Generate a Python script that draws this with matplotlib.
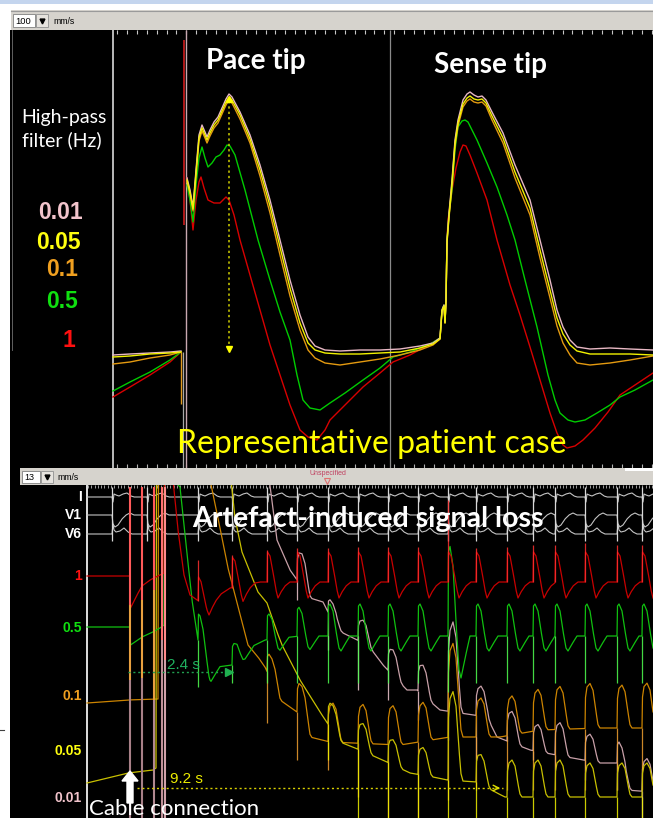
import numpy as np
import matplotlib
matplotlib.use("Agg")
import matplotlib.pyplot as plt
from matplotlib.patches import Rectangle, FancyArrow

# ============================ DATA ============================
# Upper panel (100 mm/s): monophasic action potentials, screen units
hp_settings = ['0.01', '0.05', '0.1', '0.5', '1']   # high-pass filter (Hz)

pre_t    = [113, 130, 150, 170, 181]
pre_0_01 = [355, 354, 353, 352, 351]
pre_0_05 = [357, 356, 354, 353, 352]
pre_0_1  = [364, 362, 358, 355, 352]
pre_0_5  = [391, 382, 372, 360, 352]
pre_1    = [397, 387, 375, 362, 352]

map_t = [187, 190, 193, 196, 199, 202, 205, 207, 210, 214,
         218, 222, 226, 229, 232, 240, 250, 260, 270, 280,
         290, 300, 308, 315, 325, 340, 360, 380, 400, 420,
         433, 440, 442, 444, 445, 446, 447, 449, 452, 455,
         458, 463, 467, 470, 474, 478, 482, 486, 492, 503,
         515, 530, 540, 550, 557, 563, 570, 577, 590, 610,
         630, 653]
map_0_01 = [178, 190, 207, 170, 135, 125, 132, 137, 130, 122,
            117, 108, 99, 94, 97, 112, 135, 165, 200, 240,
            280, 315, 337, 346, 350, 351, 350, 350, 349, 346,
            343, 338, 310, 305, 322, 300, 240, 213, 180, 140,
            120, 100, 94, 92, 95, 97, 96, 100, 112, 133,
            165, 200, 240, 280, 310, 327, 340, 347, 349, 348,
            349, 350]
map_0_05 = [180, 192, 209, 173, 138, 128, 135, 140, 133, 125,
            120, 111, 102, 97, 100, 115, 139, 170, 206, 247,
            288, 323, 343, 350, 353, 354, 354, 353, 352, 348,
            344, 339, 311, 306, 323, 301, 242, 216, 183, 143,
            123, 104, 98, 96, 99, 100, 99, 103, 116, 138,
            172, 208, 250, 290, 318, 334, 345, 351, 354, 354,
            354, 355]
map_0_1 = [182, 194, 211, 176, 141, 131, 138, 143, 136, 128,
           123, 114, 105, 100, 103, 119, 143, 176, 213, 255,
           296, 330, 350, 358, 363, 365, 362, 359, 355, 350,
           345, 339, 311, 306, 323, 301, 243, 218, 186, 146,
           126, 107, 101, 99, 102, 103, 102, 106, 120, 143,
           178, 215, 258, 298, 326, 343, 355, 363, 365, 363,
           360, 356]
map_0_5_t = [187, 190, 193, 196, 199, 202, 205, 208, 212, 216,
             220, 224, 227, 230, 235, 245, 258, 270, 280, 290,
             297, 303, 310, 320, 330, 345, 363, 380, 393, 410,
             432, 440, 442, 444, 445, 446, 447, 449, 452, 455,
             458, 462, 465, 468, 472, 477, 487, 497, 507, 515,
             525, 537, 548, 555, 560, 568, 575, 585, 597, 610,
             620, 635, 653]
map_0_5 = [185, 200, 222, 185, 158, 147, 158, 167, 163, 157,
           155, 150, 145, 146, 155, 190, 240, 280, 312, 340,
           375, 400, 408, 410, 403, 393, 380, 368, 357, 352,
           343, 338, 310, 305, 322, 300, 240, 215, 190, 150,
           127, 121, 120, 122, 130, 140, 163, 187, 215, 240,
           280, 327, 375, 400, 413, 420, 422, 420, 413, 405,
           397, 390, 380]
map_1_t = [187, 190, 193, 196, 199, 201, 204, 208, 214, 220,
           224, 226, 229, 234, 240, 250, 260, 270, 280, 290,
           300, 308, 317, 325, 330, 345, 363, 380, 393, 410,
           432, 440, 442, 444, 445, 446, 447, 448, 452, 456,
           460, 463, 466, 470, 477, 487, 497, 510, 520, 530,
           540, 550, 557, 563, 567, 575, 583, 595, 608, 620,
           635, 653]
map_1 = [178, 200, 230, 200, 182, 177, 188, 200, 203, 203,
         199, 197, 200, 215, 240, 275, 310, 345, 375, 405,
         430, 437, 440, 430, 420, 405, 387, 373, 362, 355,
         343, 338, 310, 305, 322, 300, 240, 220, 190, 168,
         152, 145, 146, 155, 173, 200, 240, 285, 315, 347,
         380, 413, 433, 445, 448, 446, 440, 428, 412, 395,
         385, 373]

caliper_t, caliper_top, caliper_bottom = 229, 97, 349

# Lower panel (13 mm/s): surface ECG + MAP channels, screen units
beat_t = [112, 147, 198, 232, 267, 297, 328, 358, 388, 418,
          448, 476, 507, 533, 555, 585, 617, 642]
cable_t = [130, 142, 154, 162, 165]
lead_names = ['I', 'V1', 'V6']
lead_base = [497, 515, 534]
ecg_I_dx = [0, 1, 2, 4, 7, 11, 15, 19, 22]
ecg_I_dy = [0, 5, -3, -2, -1, -3, -4, -1, 0]
ecg_V1_dx = [0, 1, 3, 6, 10, 14, 18, 22]
ecg_V1_dy = [0, 9, 12, 10, 4, 0, -2, 0]
ecg_V6_dx = [0, 1, 2, 4, 8, 12, 16, 20]
ecg_V6_dy = [0, -10, -4, -2, -3, -6, -2, 0]

red_drift_t = [87, 130, 130.5, 137, 142, 150, 158, 164, 164.5, 172, 178,
               184, 190, 197, 205, 215, 230, 260, 300, 653]
red_drift = [576, 576, 608, 595, 586, 580, 576, 573, 470, 470, 530,
             575, 595, 600, 605, 598, 588, 582, 582, 582]
red_tpl_dx = [0, 0.5, 3, 6, 9, 11, 14, 18, 23]
red_tpl_dy = [0, -30, -26, -10, 8, 16, 10, 4, 0]
red_amp = [0.8, 1, 1, 1, 1, 1, 1, 1, 1, 1, 1, 1, 1, 1, 1, 1]
red_spike = [560, 555, 550, 548, 548, 547, 547, 547, 500, 548, 547, 545,
             545, 543, 545, 545]

green_drift_t = [87, 130, 130.5, 142, 153, 160, 164, 164.5, 180, 185, 192,
                 198, 210, 232, 245, 265, 300, 653]
green_drift = [627, 627, 645, 637, 632, 628, 625, 470, 487, 535, 600,
               640, 668, 665, 650, 640, 636, 636]
green_tpl_dx = [0, 0.5, 2, 5, 8, 11, 13, 17, 22]
green_tpl_dy = [0, -30, -32, -25, -5, 12, 15, 8, 0]
green_amp = [0.9, 0.6, 0.8, 0.9, 1, 1, 1, 1, 2.8, 1, 1, 1, 1, 1, 1, 1]
green_spike = [687, 683, 683, 683, 683, 683, 683, 683, 692, 683, 683, 683,
               683, 683, 683, 683]

orange_drift_t = [87, 128, 155, 158, 158.5, 208, 218, 228, 235, 248, 258,
                  265, 280, 297, 310, 330, 400, 450, 500, 540, 600, 653]
orange_drift = [703, 700, 699, 699, 470, 470, 518, 568, 595, 645, 657,
                667, 700, 712, 737, 742, 745, 737, 737, 730, 728, 728]
map_tpl_dx = [0, 0.5, 2, 5, 8, 11, 13, 15]
orange_tpl_dy = [0, -27, -36, -39, -33, -14, -3, 0]
orange_amp = [0.6, 0.9, 1.0, 1.0, 1.0, 1.0, 2.4, 1.0, 1.0, 1.05, 1.1, 1.15,
              1.1, 1.15]
orange_spike = [723, 760, 770, 797, 818, 818, 800, 790, 790, 790, 790, 790,
                790, 790]

yellow_drift_t = [87, 128, 153, 156, 156.5, 230, 235, 242, 258, 267, 277,
                  282, 300, 320, 340, 360, 387, 410, 433, 447, 477, 497,
                  505, 570, 653]
yellow_drift = [783, 773, 770, 768, 470, 470, 518, 552, 592, 603, 632,
                645, 680, 712, 742, 750, 762, 773, 777, 780, 782, 793,
                797, 797, 797]
yellow_tpl_dy = [0, -26, -34, -37, -31, -13, -3, 0]
yellow_amp = [0.7, 0.75, 0.68, 0.75, 2.4, 0.8, 1, 1, 1, 0.92, 0.92, 0.92]
yellow_spike = [760, 818, 818, 818, 818, 818, 818, 818, 818, 818, 818, 818]

pink_drift_t = [87, 164.5, 165, 268, 277, 290, 310, 323, 337, 353, 368,
                383, 407, 417, 440, 487, 497, 530, 567, 600, 617, 626, 653]
pink_drift = [830, 830, 470, 470, 540, 570, 598, 602, 630, 638, 645,
              665, 690, 690, 710, 717, 737, 750, 757, 763, 763, 790, 792]
pink_tpl_dy = [0, -20, -27, -30, -25, -10, -2, 0]
pink_amp = [1.1, 0.6, 0.75, 0.85, 1.0, 3.0, 1.0, 1.05, 0.9, 1.1, 0.9, 1.0, 1.1]
pink_spike = [600, 650, 690, 700, 720, 740, 760, 740, 760, 770, 780, 790, 818]

arrow_24 = (128, 232, 672)    # 2.4 s recovery, 0.5 Hz
arrow_92 = (137, 503, 788)    # 9.2 s recovery, 0.05 Hz

# ============================ STYLE ============================
C = {'0.01': '#e8b8c4', '0.05': '#f2f200', '0.1': '#e49a10',
     '0.5': '#00cc00', '1': '#d80000'}
LBL = {'0.01': '#f2c4cc', '0.05': '#ffff10', '0.1': '#f0a020',
       '0.5': '#10e010', '1': '#ff1010'}
LOW = {'0.01': '#c8a0a8', '0.05': '#c8c000', '0.1': '#cc8400',
       '0.5': '#10c010', '1': '#c80000'}
SPK = {'0.01': '#f0c8d0', '0.05': '#f0f000', '0.1': '#f0a030',
       '0.5': '#50ff50', '1': '#ff3030'}
CAL = 'Lato'
ARIAL = 'Liberation Sans'

W, H = 653, 818
fig = plt.figure(figsize=(W / 100, H / 100), dpi=100)
fig.patch.set_facecolor('white')


def make_ax(x0, y0, x1, y1, z=1):
    ax = fig.add_axes([x0 / W, 1 - y1 / H, (x1 - x0) / W, (y1 - y0) / H], zorder=z)
    ax.set_xlim(x0, x1)
    ax.set_ylim(y1, y0)
    ax.axis('off')
    return ax


bg = make_ax(0, 0, W, H, z=0)
bg.add_patch(Rectangle((0, 0), W, 3.5, color='#c4d5ee', lw=0))
bg.add_patch(Rectangle((10, 30), W - 10, H - 30, color='black', lw=0))
# toolbars
bg.add_patch(Rectangle((11, 10), W - 11, 20, color='#d6d3cd', lw=0))
bg.plot([11, W], [10.5, 10.5], color='#9a9a9a', lw=0.8)
bg.add_patch(Rectangle((13, 14), 22, 13, fc='white', ec='#808080', lw=0.6))
bg.add_patch(Rectangle((36, 14), 12, 13, fc='#e6e3de', ec='#909090', lw=0.6))
bg.text(15, 21, '100', fontsize=6.8, family=ARIAL, va='center', ha='left', color='black')
bg.plot([42], [21], marker='v', ms=3.5, color='black')
bg.text(53, 21.5, 'mm/s', fontsize=6.3, family=ARIAL, va='center', ha='left', color='black')

bg.add_patch(Rectangle((20, 468), W - 20, 17, color='#d6d3cd', lw=0))
bg.add_patch(Rectangle((625, 468), 28, 3, color='white', lw=0))
bg.add_patch(Rectangle((22, 471), 18, 12, fc='white', ec='#808080', lw=0.6))
bg.add_patch(Rectangle((41, 471), 12, 12, fc='#e6e3de', ec='#909090', lw=0.6))
bg.text(24, 477, '13', fontsize=6.5, family=ARIAL, va='center', ha='left', color='black')
bg.plot([47], [477], marker='v', ms=3.5, color='black')
bg.text(57, 477.5, 'mm/s', fontsize=6.3, family=ARIAL, va='center', ha='left', color='black')
bg.text(328, 473.5, 'Unspecified', fontsize=5.0, family=ARIAL, va='center', ha='center',
        color='#c04060')
bg.plot([327], [481], marker='v', ms=5, mfc='none', mec='#e07070', mew=0.8)
bg.plot([0, 3.5], [730, 730], color='#404040', lw=0.8)
bg.plot([11.5, 11.5], [30, 350], color='#707070', lw=0.6)

# ------------------------------ upper panel ------------------------------
ax_t = make_ax(11, 30, 653, 468, z=2)
ax_t.vlines(np.arange(117, 653, 9.9), 30, 34, color='#c8c8c8', lw=0.8)
ax_t.vlines(np.arange(117, 653, 9.9), 464, 468, color='#b0b0b0', lw=0.8)
ax_t.vlines([113], 30, 468, color='#c8c8c8', lw=1.3)
ax_t.vlines([390], 30, 468, color='#8a8a8a', lw=0.9)
ax_t.vlines([186], 30, 468, color='#c8a8b0', lw=1.0)
ax_t.vlines([182.5], 352, 468, color='#a8a8a8', lw=0.9)
ax_t.vlines([184], 40, 225, color='#e02020', lw=1.1)
ax_t.vlines([181], 352, 404, color='#e09a20', lw=1.0)

pre = {'0.01': pre_0_01, '0.05': pre_0_05, '0.1': pre_0_1, '0.5': pre_0_5, '1': pre_1}
post = {'0.01': (map_t, map_0_01), '0.05': (map_t, map_0_05), '0.1': (map_t, map_0_1),
        '0.5': (map_0_5_t, map_0_5), '1': (map_1_t, map_1)}
for k in ['1', '0.5', '0.1', '0.01', '0.05']:
    ax_t.plot(pre_t, pre[k], color=C[k], lw=1.0, solid_joinstyle='round')
    tx, ty = post[k]
    ax_t.plot(tx, ty, color=C[k], lw=1.0, solid_joinstyle='round')

ax_t.plot([caliper_t, caliper_t], [caliper_top + 4, caliper_bottom - 3], ls=(0, (1.5, 2)),
          color='#d0d000', lw=1.1)
ax_t.plot([caliper_t], [caliper_top + 2], marker='^', ms=5, color='#ffff00')
ax_t.plot([caliper_t], [caliper_bottom], marker='v', ms=5, color='#ffff00')

ax_t.text(256, 69, 'Pace tip', color='white', fontsize=20, fontweight='bold', family=CAL,
          ha='center', va='baseline', zorder=5)
ax_t.text(490, 73, 'Sense tip', color='white', fontsize=20, fontweight='bold', family=CAL,
          ha='center', va='baseline', zorder=5)
ax_t.text(372, 453, 'Representative patient case', color='#ffff00', fontsize=23, family=CAL,
          ha='center', va='baseline', zorder=5)
ax_t.text(64, 122.5, 'High-pass', color='white', fontsize=14, family=CAL,
          ha='center', va='baseline', zorder=5)
ax_t.text(62, 146.5, 'filter (Hz)', color='white', fontsize=14, family=CAL,
          ha='center', va='baseline', zorder=5)
top_lbl_xy = {'0.01': (60, 219), '0.05': (58, 249), '0.1': (62, 276), '0.5': (62, 308),
              '1': (69, 347)}
for k in hp_settings:
    x, y = top_lbl_xy[k]
    ax_t.text(x, y, k, color=LBL[k], fontsize=16.5, fontweight='bold', family=ARIAL,
              ha='center', va='baseline', zorder=5)

# ------------------------------ lower panel ------------------------------
ax_b = make_ax(10, 485, 653, 818, z=2)
ax_b.vlines(np.arange(88, 653, 3.3), 485, 488, color='#b8b8b8', lw=0.6)
ax_b.vlines([87], 485, 818, color='#e0e0e0', lw=1.4)

xg = np.arange(87, 653.01, 0.25)


def build(drift_t, drift, beats, amps, tdx, tdy):
    y = np.interp(xg, drift_t, drift)
    b = np.asarray(beats, float)
    idx = np.searchsorted(b, xg, side='right') - 1
    ok = idx >= 0
    ii = np.clip(idx, 0, None)
    add = np.asarray(amps, float)[ii] * np.interp(xg - b[ii], tdx, tdy, right=0.0)
    return y + np.where(ok, add, 0.0)


# ECG leads
ecg_tpl = [(ecg_I_dx, ecg_I_dy), (ecg_V1_dx, ecg_V1_dy), (ecg_V6_dx, ecg_V6_dy)]
for base, (dx, dy) in zip(lead_base, ecg_tpl):
    y = build([87, 653], [base, base], beat_t, [1] * len(beat_t), dx, dy)
    ax_b.plot(xg, y, color='#c4c4c4', lw=0.8)
ax_b.vlines(beat_t, 487, 541, color='#d8d8d8', lw=0.9)

chan = {
    '0.01': (pink_drift_t, pink_drift, beat_t[5:], pink_amp, map_tpl_dx, pink_tpl_dy, pink_spike),
    '0.05': (yellow_drift_t, yellow_drift, beat_t[6:], yellow_amp, map_tpl_dx, yellow_tpl_dy, yellow_spike),
    '0.1': (orange_drift_t, orange_drift, beat_t[4:], orange_amp, map_tpl_dx, orange_tpl_dy, orange_spike),
    '0.5': (green_drift_t, green_drift, beat_t[2:], green_amp, green_tpl_dx, green_tpl_dy, green_spike),
    '1': (red_drift_t, red_drift, beat_t[2:], red_amp, red_tpl_dx, red_tpl_dy, red_spike),
}
for k in ['0.01', '0.1', '0.05', '0.5', '1']:
    dt, dv, bts, amps, tdx, tdy, spk = chan[k]
    y = build(dt, dv, bts, amps, tdx, tdy)
    ax_b.plot(xg, y, color=LOW[k], lw=0.9, solid_joinstyle='round')
    y0 = np.interp(bts, xg, y)
    ax_b.vlines(bts, y0, spk, color=SPK[k], lw=0.9, alpha=0.85)

# cable connection artefacts
cable_segments = {
    130: [(487, 605, '#ff5a5a'), (605, 680, '#e8a040'), (680, 818, '#a88088')],
    142: [(487, 600, '#ff5a5a'), (600, 678, '#e8a040'), (678, 818, '#a88088')],
    154: [(487, 590, '#ff5a5a'), (590, 700, '#e8a040'), (700, 818, '#b08890')],
    162: [(487, 640, '#ff7070'), (640, 818, '#c09098')],
    165: [(487, 660, '#ff8a8a'), (660, 818, '#d0a0a8')],
}
for x in cable_t:
    for y0, y1, c in cable_segments[x]:
        ax_b.vlines([x], y0, y1, color=c, lw=1.5, zorder=4)

# recovery-time arrows
x0, x1, y = arrow_24
ax_b.plot([x0, x1 - 5], [y, y], ls=(0, (1.5, 2)), color='#20a050', lw=1.0, zorder=6)
ax_b.plot([x1 - 3], [y], marker='>', ms=6, color='#20b050', zorder=6)
ax_b.text(167, 669, '2.4 s', color='#20b060', fontsize=11, family=ARIAL,
          ha='left', va='baseline', zorder=6)
x0, x1, y = arrow_92
ax_b.plot([x0, x1], [y, y], ls=(0, (1.5, 2)), color='#d8d000', lw=1.0, zorder=6)
ax_b.annotate('', xy=(x1, y), xytext=(x1 - 10, y),
              arrowprops=dict(arrowstyle='->', color='#e0e000', lw=1.0), zorder=6)
ax_b.text(170, 783, '9.2 s', color='#ecec00', fontsize=11, family=ARIAL,
          ha='left', va='baseline', zorder=6)

ax_b.add_patch(FancyArrow(130, 803, 0, -32, width=6, head_width=16, head_length=10,
                          length_includes_head=True, color='white', zorder=7))
ax_b.text(89, 815, 'Cable connection', color='white', fontsize=16, family=CAL,
          ha='left', va='baseline', zorder=8)
ax_b.text(368, 527, 'Artefact-induced signal loss', color='white', fontsize=20.5,
          fontweight='bold', family=CAL, ha='center', va='baseline', zorder=8)

# channel labels
for name, base in zip(lead_names, [501, 519, 538]):
    ax_b.text(82, base, name, color='white', fontsize=10, fontweight='bold', family=ARIAL,
              ha='right', va='baseline', zorder=8, clip_on=False)
low_lbl_y = {'1': 580, '0.5': 632, '0.1': 700, '0.05': 755, '0.01': 802}
for k in hp_settings:
    ax_b.text(82, low_lbl_y[k], k, color=LBL[k], fontsize=10, fontweight='bold', family=ARIAL,
              ha='right', va='baseline', zorder=8, clip_on=False)

fig.savefig('out.png', dpi=100, facecolor='white')
